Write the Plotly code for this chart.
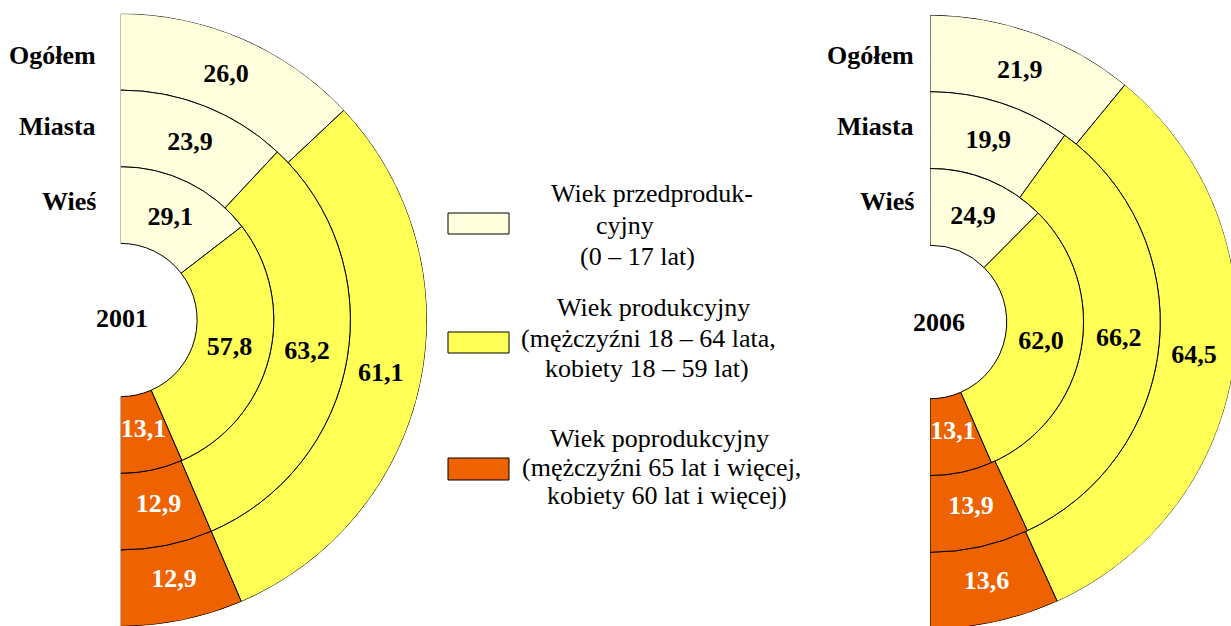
import plotly.graph_objects as go

W, H = 1240, 632   # figure slightly larger than the 1231x626 window; the window crops it
OFF = 0

# ---------------- data ----------------
ring_labels = ["Ogółem", "Miasta", "Wieś"]
years = ["2001", "2006"]
pre_2001 = [26.0, 23.9, 29.1]
prod_2001 = [61.1, 63.2, 57.8]
post_2001 = [12.9, 12.9, 13.1]
pre_2006 = [21.9, 19.9, 24.9]
prod_2006 = [64.5, 66.2, 62.0]
post_2006 = [13.6, 13.9, 13.1]

group_names = ["Wiek przedprodukcyjny", "Wiek produkcyjny", "Wiek poprodukcyjny"]
legend_lines = [
    ["Wiek przedproduk-", "cyjny", "(0 – 17 lat)"],
    ["Wiek produkcyjny", "(mężczyźni 18 – 64 lata,", "kobiety 18 – 59 lat)"],
    ["Wiek poprodukcyjny", "(mężczyźni 65 lat i więcej,", "kobiety 60 lat i więcej)"],
]

# ---------------- style ----------------
colors = ["#FFFFDD", "#FFFF55", "#EE6200"]
label_colors = ["black", "black", "white"]
ring_base = [3, 2, 1]  # Ogółem outer, Miasta middle, Wieś inner
FONT = "Liberation Serif"
FS = 26


def px_x(x):
    return (x - OFF) / W


def px_y(y):
    return 1 - (y - OFF) / H


fig = go.Figure()


def add_half_donut(series, polar_id):
    start = [0.0, 0.0, 0.0]
    for k, vals in enumerate(series):
        widths = [v * 1.8 for v in vals]
        mids = [s + w / 2 for s, w in zip(start, widths)]
        fig.add_trace(go.Barpolar(
            r=[1] * len(vals), base=ring_base, theta=mids, width=widths,
            marker=dict(color=colors[k], line=dict(color="black", width=1)),
            subplot=polar_id, hoverinfo="skip", showlegend=False,
            name=group_names[k],
        ))
        fig.add_trace(go.Scatterpolar(
            r=[b + 0.47 for b in ring_base], theta=mids, mode="text",
            text=[f"{v:.1f}".replace(".", ",") for v in vals],
            textfont=dict(family=FONT, size=FS, color=label_colors[k], weight="bold"),
            subplot=polar_id, hoverinfo="skip", showlegend=False, cliponaxis=False,
        ))
        start = [s + w for s, w in zip(start, widths)]


add_half_donut([pre_2001, prod_2001, post_2001], "polar")
add_half_donut([pre_2006, prod_2006, post_2006], "polar2")

polar_common = dict(
    sector=[-90, 90],
    bgcolor="rgba(0,0,0,0)",
    radialaxis=dict(range=[0, 4], visible=False, showgrid=False),
    angularaxis=dict(direction="clockwise", rotation=90, visible=False, showgrid=False),
)

fig.update_layout(
    width=W, height=H,
    margin=dict(l=0, r=0, t=0, b=0),
    paper_bgcolor="white", plot_bgcolor="white",
    showlegend=False,
    polar=dict(domain=dict(x=[px_x(120.5), px_x(427)], y=[px_y(626.5), px_y(13.5)]), **polar_common),
    polar2=dict(domain=dict(x=[px_x(930), px_x(1237)], y=[px_y(629), px_y(15)]), **polar_common),
)

annotations = []
# ring labels
ring_label_y = [55, 127, 202]
for xr in [98, 916]:
    for lab, yy in zip(ring_labels, ring_label_y):
        annotations.append(dict(
            x=px_x(xr), y=px_y(yy), xref="paper", yref="paper", text=lab,
            showarrow=False, xanchor="right", yanchor="middle",
            font=dict(family=FONT, size=FS, color="black", weight="bold"),
        ))
# year labels
for yr, (xx, yy) in zip(years, [(122, 318), (939, 323)]):
    annotations.append(dict(
        x=px_x(xx), y=px_y(yy), xref="paper", yref="paper", text=yr,
        showarrow=False, xanchor="center", yanchor="middle",
        font=dict(family=FONT, size=FS, color="black", weight="bold"),
    ))

# legend
legend_box_y = [(213, 234), (332, 353), (458, 480)]
legend_line_y = [[193, 225, 257], [308, 338, 368], [438, 467, 495]]
legend_line_x = [[652, 625, 637], [653, 648, 647], [659, 662, 667]]
shapes = []
for k in range(3):
    y0, y1 = legend_box_y[k]
    shapes.append(dict(
        type="rect", xref="paper", yref="paper",
        x0=px_x(448), x1=px_x(509), y0=px_y(y1), y1=px_y(y0),
        fillcolor=colors[k], line=dict(color="black", width=1),
    ))
    for line, xx, yy in zip(legend_lines[k], legend_line_x[k], legend_line_y[k]):
        annotations.append(dict(
            x=px_x(xx), y=px_y(yy), xref="paper", yref="paper", text=line,
            showarrow=False, xanchor="center", yanchor="middle",
            font=dict(family=FONT, size=FS, color="black"),
        ))

fig.update_layout(annotations=annotations, shapes=shapes)

fig.write_html(
    "out.html",
    config={"displayModeBar": False},
    post_script=(
        "document.documentElement.style.overflow='hidden';"
        "document.body.style.margin='0';"
    ),
)
